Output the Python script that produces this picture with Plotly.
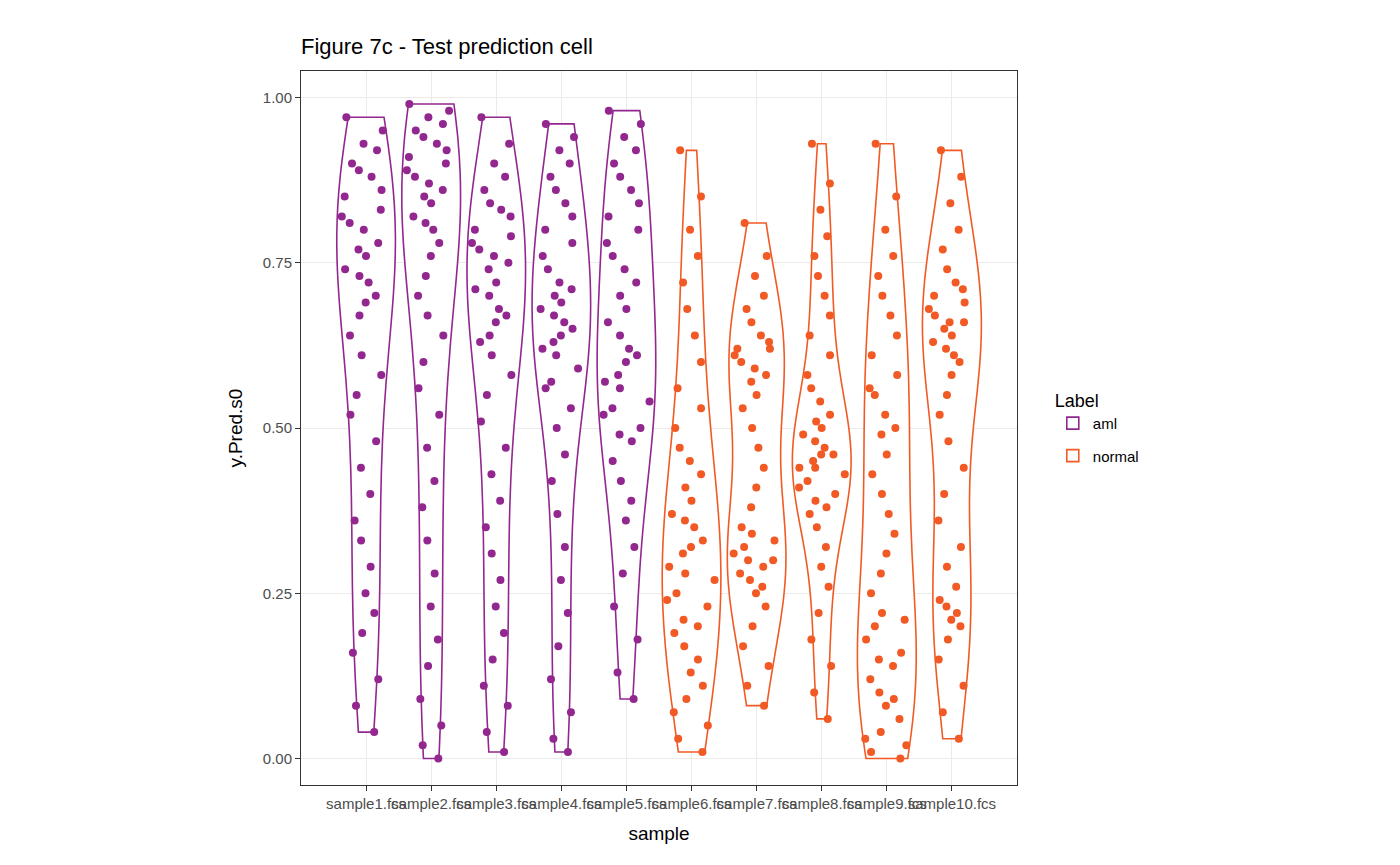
import plotly.graph_objects as go

samples = ["sample1.fcs", "sample2.fcs", "sample3.fcs", "sample4.fcs", "sample5.fcs",
           "sample6.fcs", "sample7.fcs", "sample8.fcs", "sample9.fcs", "sample10.fcs"]
labels = ["aml", "aml", "aml", "aml", "aml", "normal", "normal", "normal", "normal", "normal"]

pred = {
    "sample1.fcs": [0.04, 0.08, 0.12, 0.16, 0.19, 0.22, 0.25, 0.29, 0.33, 0.36, 0.40, 0.44, 0.48,
                    0.52, 0.55, 0.58, 0.61, 0.64, 0.67, 0.70, 0.72, 0.74, 0.76, 0.78, 0.80, 0.81,
                    0.83, 0.85, 0.86, 0.88, 0.89, 0.90, 0.92, 0.93, 0.95, 0.97, 0.82, 0.77, 0.69, 0.73],
    "sample2.fcs": [0.00, 0.02, 0.05, 0.09, 0.14, 0.18, 0.23, 0.28, 0.33, 0.38, 0.42, 0.47, 0.52,
                    0.56, 0.60, 0.64, 0.67, 0.70, 0.73, 0.76, 0.78, 0.80, 0.82, 0.84, 0.86, 0.87,
                    0.88, 0.90, 0.91, 0.92, 0.93, 0.94, 0.95, 0.96, 0.97, 0.98, 0.99, 0.89, 0.85, 0.81],
    "sample3.fcs": [0.01, 0.04, 0.08, 0.11, 0.15, 0.19, 0.23, 0.27, 0.31, 0.35, 0.39, 0.43, 0.47,
                    0.51, 0.55, 0.58, 0.61, 0.64, 0.66, 0.68, 0.70, 0.72, 0.74, 0.75, 0.77, 0.78,
                    0.79, 0.80, 0.82, 0.83, 0.84, 0.86, 0.88, 0.90, 0.93, 0.97, 0.71, 0.67, 0.63, 0.76],
    "sample4.fcs": [0.01, 0.03, 0.07, 0.12, 0.17, 0.22, 0.27, 0.32, 0.37, 0.42, 0.46, 0.50, 0.53,
                    0.56, 0.59, 0.61, 0.63, 0.65, 0.66, 0.67, 0.68, 0.69, 0.71, 0.72, 0.74, 0.76,
                    0.78, 0.80, 0.82, 0.84, 0.86, 0.88, 0.90, 0.92, 0.94, 0.96, 0.64, 0.62, 0.70, 0.57],
    "sample5.fcs": [0.09, 0.13, 0.18, 0.23, 0.28, 0.32, 0.36, 0.39, 0.42, 0.45, 0.48, 0.50, 0.52,
                    0.54, 0.56, 0.58, 0.60, 0.62, 0.64, 0.66, 0.68, 0.70, 0.72, 0.74, 0.76, 0.78,
                    0.80, 0.82, 0.84, 0.86, 0.88, 0.90, 0.92, 0.94, 0.96, 0.98, 0.53, 0.57, 0.61, 0.49],
    "sample6.fcs": [0.01, 0.03, 0.05, 0.07, 0.09, 0.11, 0.13, 0.15, 0.17, 0.19, 0.21, 0.23, 0.25,
                    0.27, 0.29, 0.31, 0.33, 0.35, 0.37, 0.39, 0.41, 0.43, 0.45, 0.47, 0.50, 0.53,
                    0.56, 0.60, 0.64, 0.68, 0.72, 0.76, 0.80, 0.85, 0.92, 0.20, 0.24, 0.28, 0.32, 0.36],
    "sample7.fcs": [0.08, 0.11, 0.14, 0.17, 0.20, 0.23, 0.25, 0.27, 0.28, 0.29, 0.30, 0.31, 0.32,
                    0.33, 0.35, 0.38, 0.41, 0.44, 0.47, 0.50, 0.53, 0.55, 0.57, 0.59, 0.60, 0.61,
                    0.62, 0.63, 0.64, 0.66, 0.68, 0.70, 0.73, 0.76, 0.81, 0.26, 0.30, 0.58, 0.62, 0.34],
    "sample8.fcs": [0.06, 0.10, 0.14, 0.18, 0.22, 0.26, 0.29, 0.32, 0.35, 0.37, 0.39, 0.41, 0.42,
                    0.43, 0.44, 0.45, 0.46, 0.47, 0.48, 0.49, 0.50, 0.52, 0.54, 0.56, 0.58, 0.61,
                    0.64, 0.67, 0.70, 0.73, 0.76, 0.79, 0.83, 0.87, 0.93, 0.44, 0.46, 0.40, 0.51, 0.38],
    "sample9.fcs": [0.00, 0.01, 0.02, 0.04, 0.06, 0.08, 0.10, 0.12, 0.14, 0.16, 0.18, 0.20, 0.22,
                    0.25, 0.28, 0.31, 0.34, 0.37, 0.40, 0.43, 0.46, 0.49, 0.52, 0.55, 0.58, 0.61,
                    0.64, 0.67, 0.70, 0.73, 0.76, 0.80, 0.85, 0.93, 0.03, 0.09, 0.15, 0.21, 0.50, 0.56],
    "sample10.fcs": [0.03, 0.07, 0.11, 0.15, 0.18, 0.20, 0.22, 0.24, 0.26, 0.29, 0.32, 0.36, 0.40,
                     0.44, 0.48, 0.52, 0.55, 0.58, 0.60, 0.62, 0.64, 0.65, 0.66, 0.67, 0.68, 0.69,
                     0.70, 0.72, 0.74, 0.77, 0.80, 0.84, 0.88, 0.92, 0.21, 0.63, 0.66, 0.61, 0.23, 0.71],
}

colors = {"aml": "#92278F", "normal": "#F15A24"}

fig = go.Figure()

# jittered points (uniform jitter via box points), violins drawn over them with white fill
for s, lab in zip(samples, labels):
    fig.add_trace(go.Box(
        x=[s] * len(pred[s]), y=pred[s], boxpoints="all", jitter=1, pointpos=0,
        fillcolor="rgba(0,0,0,0)", line=dict(width=0, color="rgba(0,0,0,0)"), width=0.8,
        marker=dict(color=colors[lab], size=8), showlegend=False, hoveron="points",
    ))

shown = set()
for s, lab in zip(samples, labels):
    fig.add_trace(go.Violin(
        x=[s] * len(pred[s]), y=pred[s], points=False, name=lab, legendgroup=lab,
        showlegend=lab not in shown, fillcolor="white",
        line=dict(color=colors[lab], width=1.6), width=0.9, spanmode="hard",
    ))
    shown.add(lab)

fig.update_layout(
    violinmode="overlay", boxmode="overlay",
    width=1400, height=865,
    margin=dict(l=293, r=391, t=63, b=88),
    paper_bgcolor="white", plot_bgcolor="white",
    font=dict(family="Liberation Sans, Arial", size=15, color="black"),
    title=dict(text="Figure 7c - Test prediction cell", x=293 / 1400, xanchor="left",
               y=0.965, font=dict(size=22)),
    legend=dict(title=dict(text="Label", font=dict(size=18)), x=1.05, y=0.5, yanchor="middle",
                font=dict(size=15)),
    xaxis=dict(title=dict(text="sample", font=dict(size=19)), categoryorder="array",
               categoryarray=samples, tickangle=0, showgrid=True, gridcolor="#EBEBEB",
               ticks="outside", ticklen=5, tickcolor="#333", tickfont=dict(color="#4D4D4D", size=15),
               showline=True, linecolor="#333", mirror=True),
    yaxis=dict(title=dict(text="y.Pred.s0", font=dict(size=19)), range=[-0.04, 1.04],
               tickvals=[0, 0.25, 0.5, 0.75, 1.0],
               ticktext=["0.00", "0.25", "0.50", "0.75", "1.00"],
               showgrid=True, gridcolor="#EBEBEB", zeroline=False,
               ticks="outside", ticklen=5, tickcolor="#333", tickfont=dict(color="#4D4D4D", size=15),
               showline=True, linecolor="#333", mirror=True),
)

fig.write_html("out.html")
